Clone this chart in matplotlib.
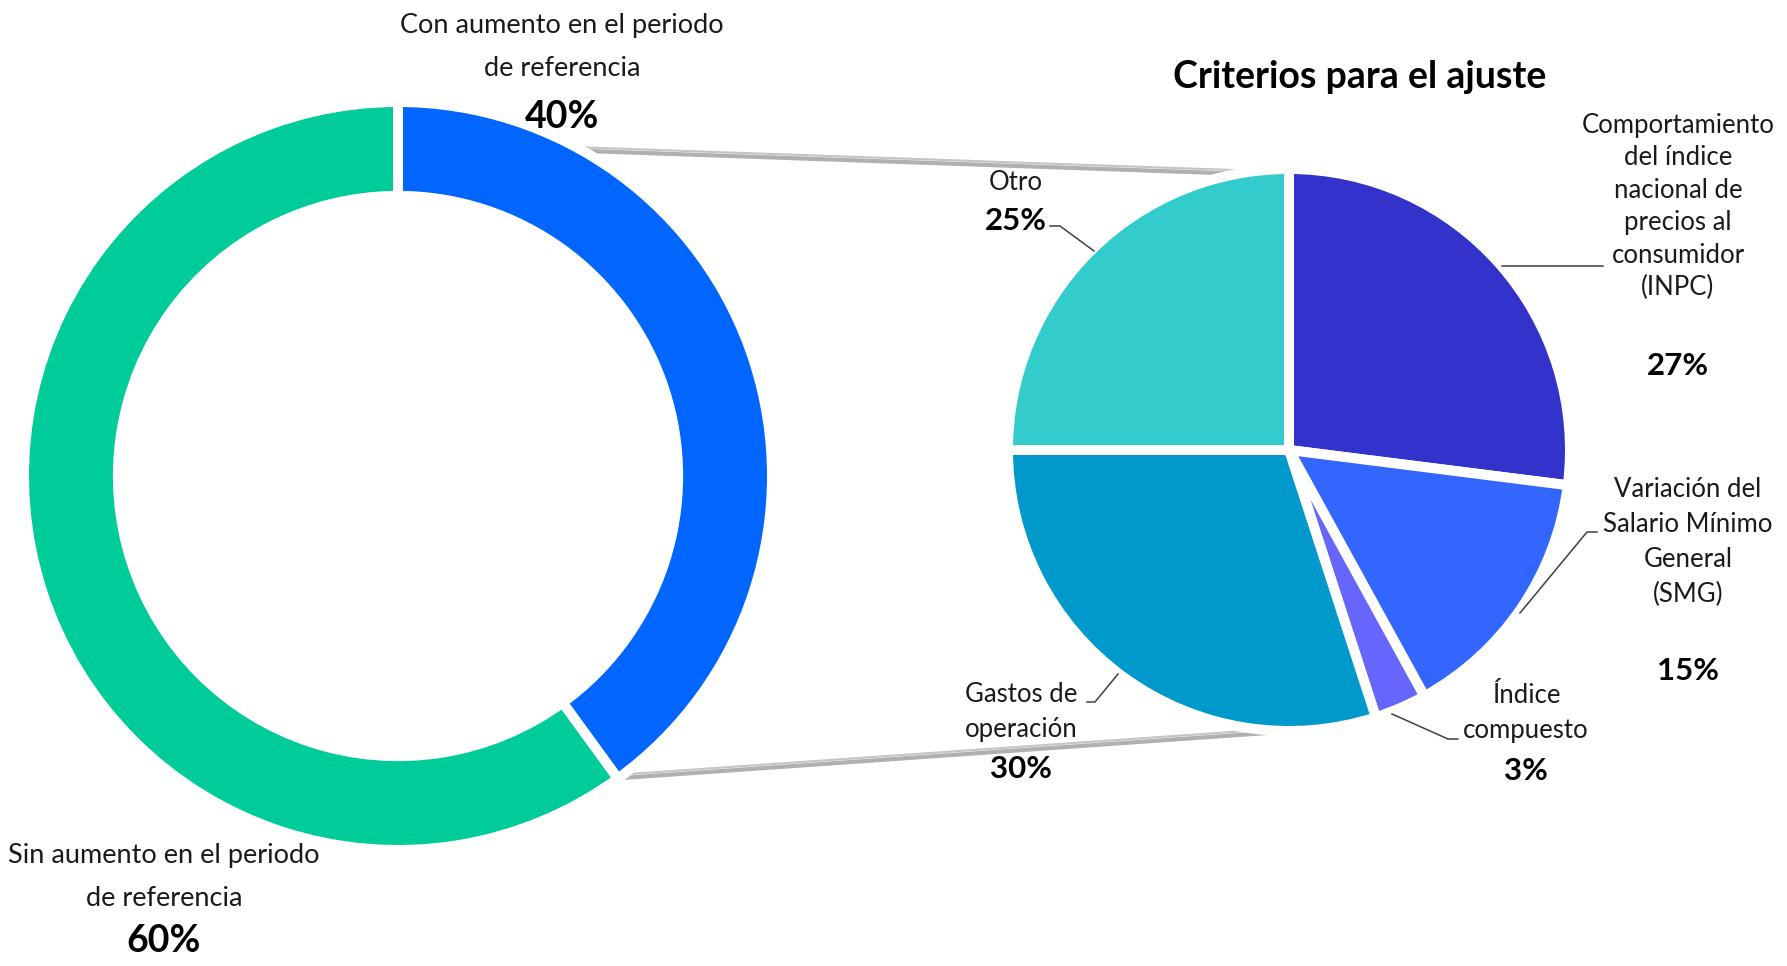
import matplotlib
matplotlib.use('Agg')
from matplotlib import pyplot as plt
from matplotlib import patheffects as pe
from matplotlib.lines import Line2D

# data
donut_labels = ['Con aumento en el periodo\nde referencia', 'Sin aumento en el periodo\nde referencia']
donut_values = [40, 60]
donut_colors = ['#0066FF', '#00CC99']

pie_title = 'Criterios para el ajuste'
pie_labels = ['Comportamiento\ndel índice\nnacional de\nprecios al\nconsumidor\n(INPC)',
              'Variación del\nSalario Mínimo\nGeneral\n(SMG)',
              'Índice\ncompuesto',
              'Gastos de\noperación',
              'Otro']
pie_values = [27, 15, 3, 30, 25]
pie_colors = ['#3333CC', '#3366FF', '#6666FF', '#0099CC', '#33CCCC']

W, H = 1787, 966
plt.rcParams['font.family'] = ['Lato', 'DejaVu Sans']
fig = plt.figure(figsize=(W / 100, H / 100), dpi=100)

def fx(x):
    return x / W

def fy(y):
    return 1 - y / H

def axes_at(cx, cy, r):
    return fig.add_axes([fx(cx - r), fy(cy + r), 2 * r / W, 2 * r / H])

# donut
ax1 = axes_at(398, 476, 374)
ax1.pie(donut_values, colors=donut_colors, startangle=90, counterclock=False,
        wedgeprops=dict(width=0.251, edgecolor='white', linewidth=7.2))
ax1.set_xlim(-1, 1)
ax1.set_ylim(-1, 1)
ax1.axis('off')

# pie
ax2 = axes_at(1289, 450, 281)
ax2.pie(pie_values, colors=pie_colors, startangle=90, counterclock=False,
        wedgeprops=dict(edgecolor='white', linewidth=7.2))
ax2.set_xlim(-1, 1)
ax2.set_ylim(-1, 1)
ax2.axis('off')

# connector lines with shadow
shadow = [pe.SimpleLineShadow(offset=(0, -2.5), shadow_color='#707070', alpha=0.55, linewidth=3),
          pe.Normal()]
for (x0, y0), (x1, y1) in [((572, 147), (1289, 172)), ((615, 775), (1289, 728))]:
    fig.add_artist(Line2D([fx(x0), fx(x1)], [fy(y0), fy(y1)], color='#c4c4c4', lw=1.5,
                          path_effects=shadow, zorder=0))

# leader lines
leaders = [
    [(1502, 266), (1603, 266)],
    [(1520, 613), (1587, 532), (1597, 532)],
    [(1392, 714), (1448, 739), (1458, 739)],
    [(1118, 674), (1095, 702), (1087, 702)],
    [(1094, 251), (1060, 226), (1050, 226)],
]
for pts in leaders:
    fig.add_artist(Line2D([fx(p[0]) for p in pts], [fy(p[1]) for p in pts],
                          color='#404040', lw=1.1))

txt = '#1a1a1a'

def lines_at(text, cx, y0, step, size, **kw):
    for i, line in enumerate(text.split('\n')):
        fig.text(fx(cx), fy(y0 + i * step), line, ha='center', va='baseline',
                 fontsize=size, color=txt, **kw)

# donut labels
donut_pos = [(562, 33, 128), (164, 863, 952)]
for lab, val, (cx, y0, yp) in zip(donut_labels, donut_values, donut_pos):
    lines_at(lab, cx, y0, 43, 19.5)
    fig.text(fx(cx), fy(yp), f'{val}%', ha='center', va='baseline',
             fontsize=27, fontweight='bold', color='black')

fig.text(fx(1360), fy(88), pie_title, ha='center', va='baseline',
         fontsize=27, fontweight='bold', color='black')

# pie labels
pie_pos = [(1678, 133, 32.4, 375), (1688, 497, 35, 680), (1526, 703, 35, 780),
           (1021, 702, 35, 778), (1016, 190, 35, 230)]
for lab, val, (cx, y0, step, yp) in zip(pie_labels, pie_values, pie_pos):
    lines_at(lab, cx, y0, step, 18.5)
    fig.text(fx(cx), fy(yp), f'{val}%', ha='center', va='baseline',
             fontsize=22.5, fontweight='bold', color='black')

fig.savefig('out.png', dpi=100)
